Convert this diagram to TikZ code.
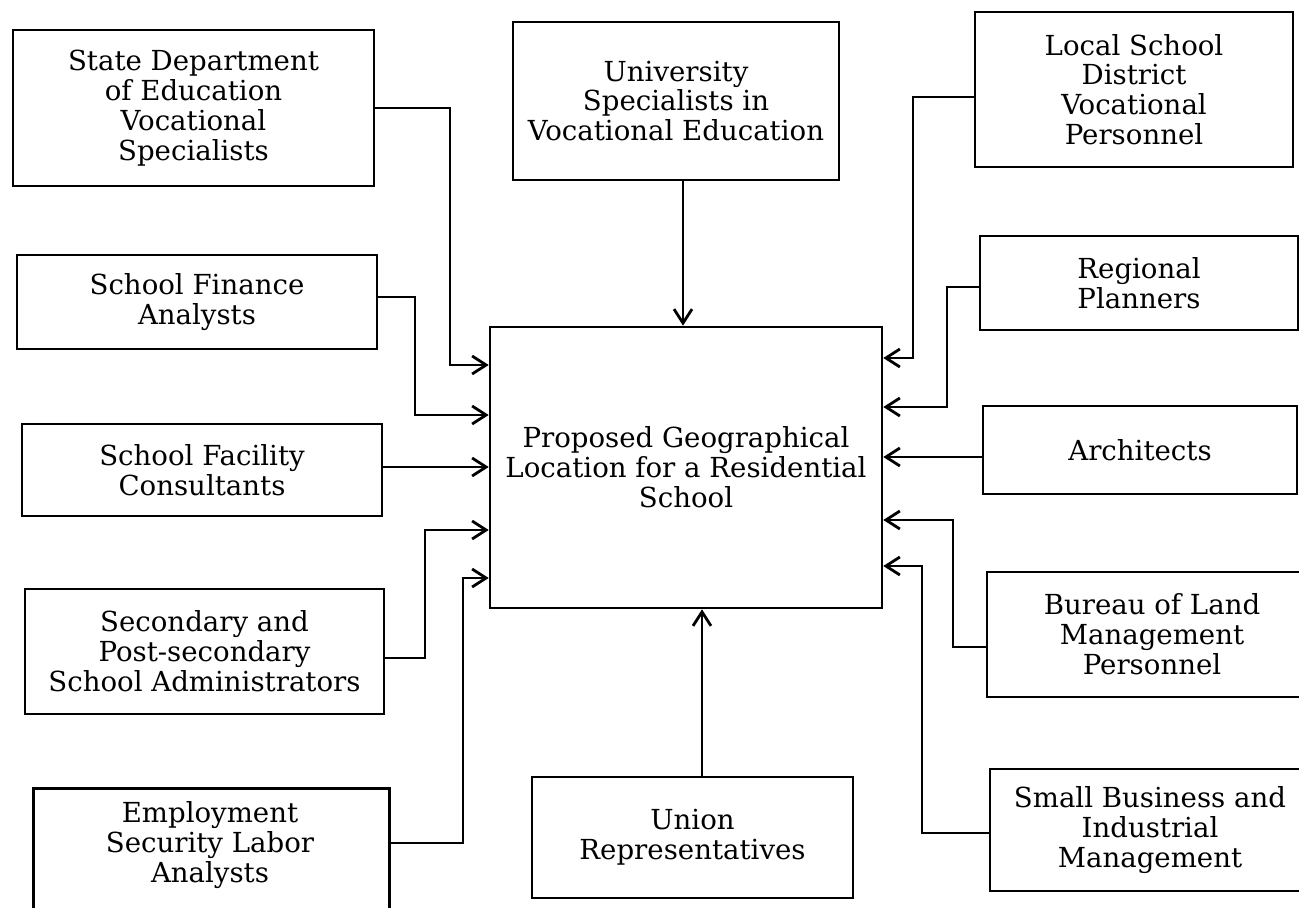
\documentclass[tikz,border=0pt]{standalone}
\usepackage{fontspec}
\setmainfont{DejaVu Serif}
\usetikzlibrary{arrows.meta}
\newcommand\boxfont{\fontsize{13.8}{14.9}\selectfont}
\tikzset{
  box/.style={draw, line width=1.3pt, align=center, font=\boxfont, inner sep=0pt, fill=white},
  txt/.style={align=center, font=\boxfont, inner sep=0pt},
  arr/.style={line width=1.3pt, -{Straight Barb[length=7pt,width=9pt,line width=1.4pt]}},
  con/.style={line width=1.3pt}
}
\begin{document}
\begin{tikzpicture}[x=0.5pt,y=-0.5pt]
\useasboundingbox (0,0) rectangle (1299,908);
\clip (0,0) rectangle (1299,908);
\fill[white] (0,0) rectangle (1299,908);
% left column
\node[box, minimum width=180.5pt, minimum height=78pt] (state) at (193.5,108)
  {State Department\\of Education\\Vocational\\Specialists};
\node[box, minimum width=180pt, minimum height=47pt] (fin) at (197,302)
  {School Finance\\Analysts};
\node[box, minimum width=180pt, minimum height=46pt] (fac) at (202,470)
  {School Facility\\Consultants};
\node[box, minimum width=179.5pt, minimum height=62.5pt] (sec) at (204.5,651.5)
  {Secondary and\\Post-secondary\\School Administrators};
\node[box, minimum width=178pt, minimum height=85pt, anchor=north west] (emp) at (32,787) {};
\node[txt] (emptxt) at (210,845) {Employment\\Security Labor\\Analysts};
% middle
\node[box, minimum width=163pt, minimum height=79pt] (univ) at (676,101)
  {University\\Specialists in\\Vocational Education};
\node[box, minimum width=196pt, minimum height=140.5pt] (center) at (686,467.5)
  {Proposed Geographical\\Location for a Residential\\School};
\node[box, minimum width=160.5pt, minimum height=60.5pt] (union) at (692.5,837.5)
  {Union\\Representatives};
% right column
\node[box, minimum width=159pt, minimum height=77.5pt] (local) at (1134,89.5)
  {Local School\\District\\Vocational\\Personnel};
\node[box, minimum width=159pt, minimum height=47pt] (reg) at (1139,283)
  {Regional\\Planners};
\node[box, minimum width=157pt, minimum height=44pt] (arch) at (1140,450)
  {Architects};
\node[box, minimum width=165pt, minimum height=62.5pt] (bur) at (1152,634.5)
  {Bureau of Land\\Management\\Personnel};
\node[box, minimum width=160pt, minimum height=61pt] (small) at (1150,830)
  {Small Business and\\Industrial\\Management};
% connectors, left
\draw[arr] (state.east |- 0,108) -| (450,365) -- (center.west |- 0,365);
\draw[arr] (fin.east |- 0,297) -| (415,415) -- (center.west |- 0,415);
\draw[arr] (fac.east |- 0,467) -- (center.west |- 0,467);
\draw[arr] (sec.east |- 0,658) -| (425,530) -- (center.west |- 0,530);
\draw[arr] (emp.east |- 0,843) -| (463,578) -- (center.west |- 0,578);
% connectors, top and bottom
\draw[arr] (683,0 |- univ.south) -- (683,0 |- center.north);
\draw[arr] (702,0 |- union.north) -- (702,0 |- center.south);
% connectors, right
\draw[arr] (local.west |- 0,97) -| (913,358) -- (center.east |- 0,358);
\draw[arr] (reg.west |- 0,287) -| (947,407) -- (center.east |- 0,407);
\draw[arr] (arch.west |- 0,457) -- (center.east |- 0,457);
\draw[arr] (bur.west |- 0,647) -| (953,520) -- (center.east |- 0,520);
\draw[arr] (small.west |- 0,833) -| (922,566) -- (center.east |- 0,566);
\end{tikzpicture}
\end{document}
